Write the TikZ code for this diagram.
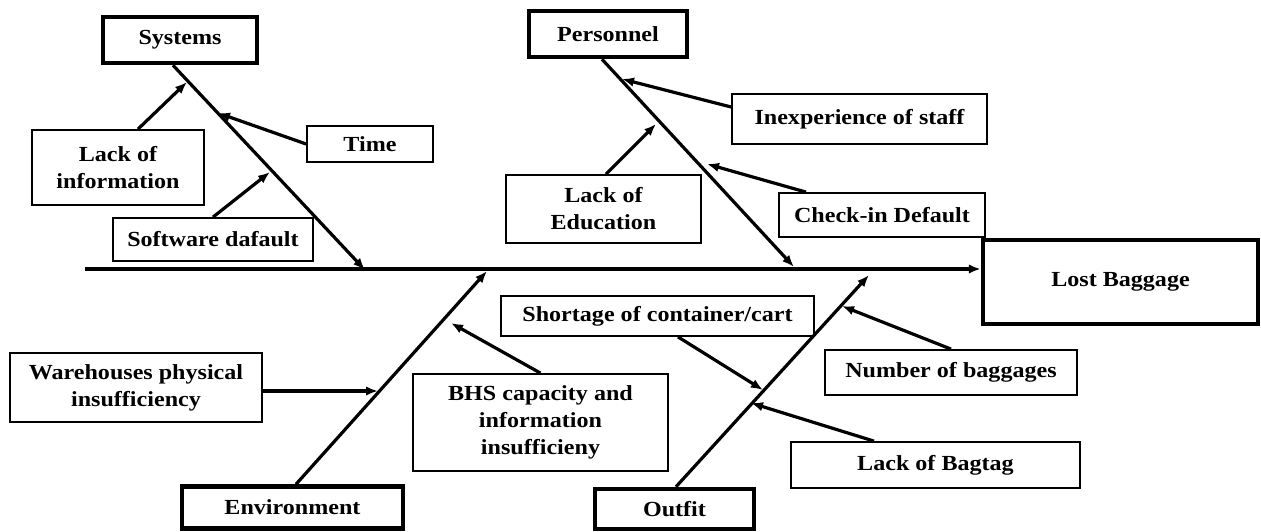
\documentclass[tikz,border=0pt]{standalone}
\usepackage{fontspec}
\setmainfont{Liberation Serif}[FakeStretch=1.12]
\usetikzlibrary{arrows.meta}
\begin{document}
\begin{tikzpicture}[x=1pt,y=-1pt,
  box/.style={draw, line width=1.8pt, fill=white, align=center, inner sep=0pt,
              font=\bfseries\fontsize{21.5}{27}\selectfont},
  mainbox/.style={box, line width=4.5pt},
  bone/.style={line width=3.2pt, -{Latex[length=12pt,width=9.5pt]}},
  cause/.style={line width=3.2pt, -{Latex[length=12pt,width=9.5pt]}}]
\useasboundingbox (0,0) rectangle (1261,531);

% main boxes
\node[mainbox, minimum width=154pt, minimum height=46pt] (sys) at (180,40) {Systems};
\node[mainbox, minimum width=158pt, minimum height=46pt] (pers) at (608,34) {Personnel};
\node[mainbox, minimum width=221pt, minimum height=42pt] (env) at (292.5,507.5) {Environment};
\node[mainbox, minimum width=159pt, minimum height=40pt] (out) at (674.5,509) {Outfit};
\node[mainbox, minimum width=275pt, minimum height=84pt] (lost) at (1120.5,282) {Lost Baggage};

% cause boxes
\node[box, minimum width=172pt, minimum height=75pt] (linfo) at (118,167.5) {Lack of\\information};
\node[box, minimum width=126pt, minimum height=36pt] (time) at (370,144) {Time};
\node[box, minimum width=200pt, minimum height=43pt] (soft) at (213,239.5) {Software dafault};
\node[box, minimum width=255pt, minimum height=50pt] (inexp) at (859.5,119) {Inexperience of staff};
\node[box, minimum width=195pt, minimum height=68pt] (ledu) at (603.5,209) {Lack of\\Education};
\node[box, minimum width=206pt, minimum height=44pt] (check) at (882,215) {Check-in Default};
\node[box, minimum width=313pt, minimum height=40pt] (short) at (657.5,316) {Shortage of container/cart};
\node[box, minimum width=255pt, minimum height=97pt] (bhs) at (540.5,422.5) {BHS capacity and\\information\\insufficieny};
\node[box, minimum width=252pt, minimum height=45pt] (numb) at (951,372.5) {Number of baggages};
\node[box, minimum width=289pt, minimum height=46pt] (bagtag) at (935.5,465) {Lack of Bagtag};
\node[box, minimum width=252pt, minimum height=69pt] (ware) at (136,387.5) {Warehouses physical\\insufficiency};

% spine and bone end points
\coordinate (spS) at (85,269);
\coordinate (t1) at (365,270);
\coordinate (t2) at (794,267);
\coordinate (t3) at (487,271);
\coordinate (t4) at (869,275);

% cause arrow tips
\coordinate (c1) at (187,82);
\coordinate (c2) at (218,113);
\coordinate (c3) at (270,172);
\coordinate (c4) at (622,79);
\coordinate (c5) at (656,124);
\coordinate (c6) at (707,164);
\coordinate (c7) at (378,391);
\coordinate (c8) at (451,323);
\coordinate (c9) at (763,390);
\coordinate (c10) at (842,306);
\coordinate (c11) at (751,403);

% spine
\draw[bone] (spS) -- (spS -| lost.west);

% bones
\draw[bone] ([xshift=-7pt]sys.south) -- (t1);
\draw[bone] ([xshift=-6pt]pers.south) -- (t2);
\draw[bone] ([xshift=3.5pt]env.north) -- (t3);
\draw[bone] ([xshift=1.5pt]out.north) -- (t4);

% causes
\draw[cause] ([xshift=20pt]linfo.north) -- (c1);
\draw[cause] (time.west) -- (c2);
\draw[cause] (soft.north) -- (c3);
\draw[cause] ([yshift=12pt]inexp.west) -- (c4);
\draw[cause] ([xshift=2.5pt]ledu.north) -- (c5);
\draw[cause] ([xshift=-76pt]check.north) -- (c6);
\draw[cause] ([yshift=-3.5pt]ware.east) -- (c7);
\draw[cause] (bhs.north) -- (c8);
\draw[cause] ([xshift=20.5pt]short.south) -- (c9);
\draw[cause] (numb.north) -- (c10);
\draw[cause] ([xshift=-61.5pt]bagtag.north) -- (c11);
\end{tikzpicture}
\end{document}
